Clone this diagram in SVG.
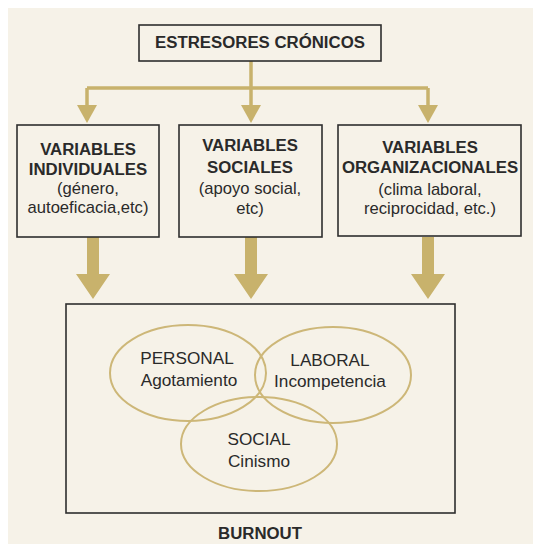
<svg xmlns="http://www.w3.org/2000/svg" width="533" height="544" viewBox="0 0 533 544">
<defs>
<style>
.box{fill:none;stroke:#2e2e2e;stroke-width:1.6}
.b{font-family:"Liberation Sans",Arial,sans-serif;font-weight:bold;font-size:16.8px;fill:#2a2a2a;text-anchor:middle}
.n{font-family:"Liberation Sans",Arial,sans-serif;font-size:16.6px;fill:#2a2a2a;text-anchor:middle}
.e{font-family:"Liberation Sans",Arial,sans-serif;font-size:17.2px;fill:#2a2a2a;text-anchor:middle}
.line{fill:none;stroke:#c8b26c;stroke-width:3.5}
.gold{fill:#c8b26c}
.ell{fill:none;stroke:#cdb778;stroke-width:2}
</style>
</defs>
<rect x="0" y="0" width="533" height="544" fill="#ffffff"/>
<rect x="8" y="8" width="525" height="536" fill="#f6f2e8"/>
<g id="connectors">
<path class="line" d="M251 61 V88 M87 88 H428 M87 88 V106 M251 88 V106 M428 88 V106"/>
<polygon class="gold" points="77,105 97,105 87,123"/>
<polygon class="gold" points="241,105 261,105 251,123"/>
<polygon class="gold" points="418,105 438,105 428,123"/>
<polygon class="gold" points="87,237 99,237 99,274 110,274 93,299 76,274 87,274"/>
<polygon class="gold" points="245,237 257,237 257,274 268,274 251,299 234,274 245,274"/>
<polygon class="gold" points="422,237 434,237 434,274 445,274 428,299 411,274 422,274"/>
</g>
<g id="estresores">
<rect class="box" x="139" y="25" width="242" height="36"/>
<text class="b" x="260" y="48">ESTRESORES CRÓNICOS</text>
</g>
<g id="individuales">
<rect class="box" x="17" y="125" width="142" height="112"/>
<text class="b" x="88" y="155">VARIABLES</text>
<text class="b" x="88" y="175">INDIVIDUALES</text>
<text class="n" x="88" y="194">(género,</text>
<text class="n" x="88" y="213">autoeficacia,etc)</text>
</g>
<g id="sociales">
<rect class="box" x="179" y="125" width="143" height="112"/>
<text class="b" x="250" y="151">VARIABLES</text>
<text class="b" x="250" y="173">SOCIALES</text>
<text class="n" x="250" y="194">(apoyo social,</text>
<text class="n" x="250" y="214">etc)</text>
</g>
<g id="organizacionales">
<rect class="box" x="338" y="125" width="183" height="111"/>
<text class="b" x="430" y="153">VARIABLES</text>
<text class="b" x="430" y="173">ORGANIZACIONALES</text>
<text class="n" x="430" y="195">(clima laboral,</text>
<text class="n" x="430" y="214">reciprocidad, etc.)</text>
</g>
<g id="burnout">
<rect class="box" x="66" y="304" width="389" height="209"/>
<text class="b" x="260" y="539">BURNOUT</text>
</g>
<g id="personal">
<ellipse class="ell" cx="188" cy="373" rx="78" ry="48"/>
<text class="e" x="187" y="364">PERSONAL</text>
<text class="e" x="189" y="386">Agotamiento</text>
</g>
<g id="laboral">
<ellipse class="ell" cx="333" cy="375" rx="78" ry="48"/>
<text class="e" x="330" y="366">LABORAL</text>
<text class="e" x="330" y="387">Incompetencia</text>
</g>
<g id="social">
<ellipse class="ell" cx="259" cy="444" rx="78" ry="47"/>
<text class="e" x="259" y="445">SOCIAL</text>
<text class="e" x="259" y="467">Cinismo</text>
</g>
</svg>
